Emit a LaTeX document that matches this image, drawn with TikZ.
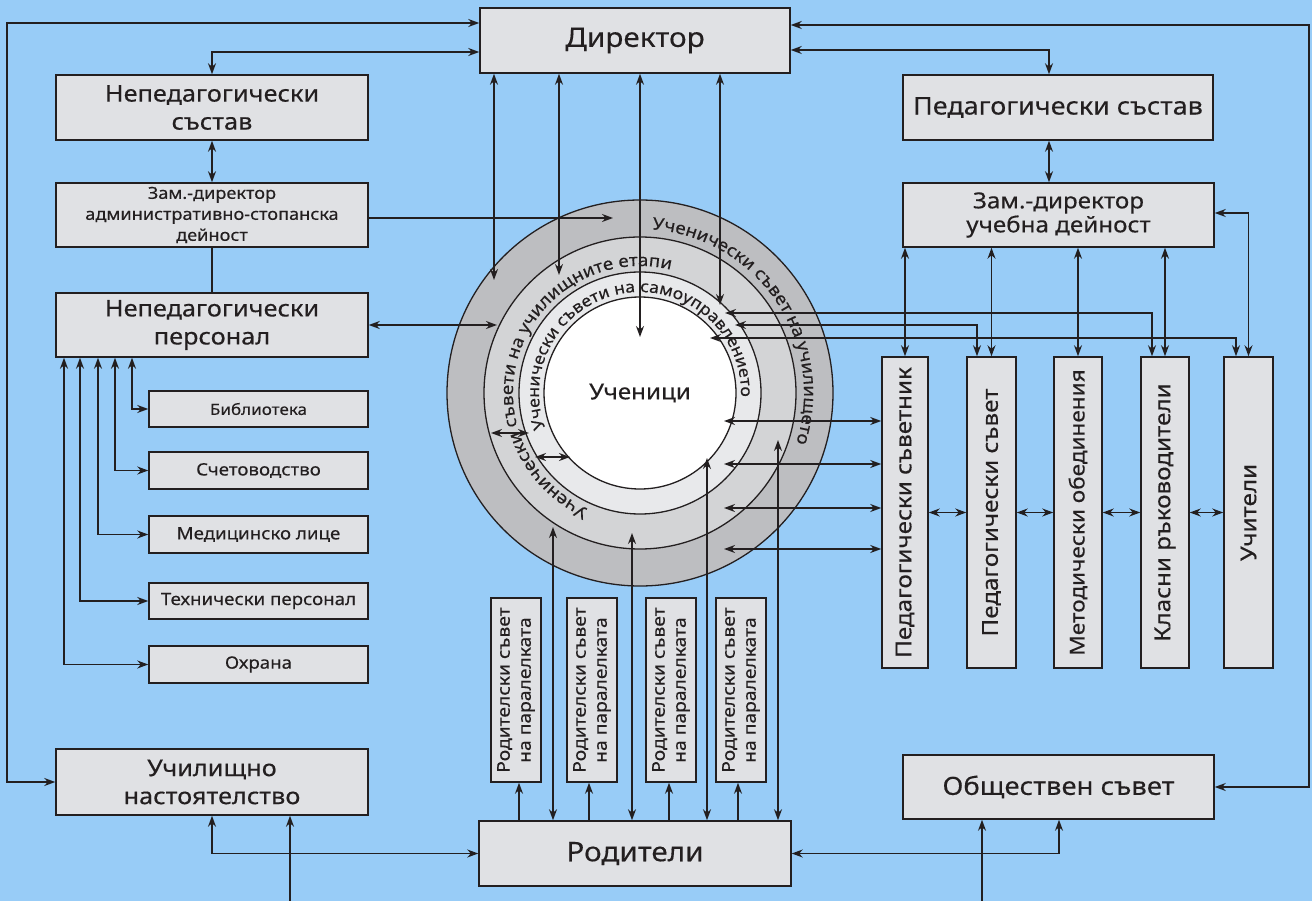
\documentclass[tikz,border=0pt]{standalone}
\usepackage{fontspec}
\setmainfont{Noto Sans}[Script=Cyrillic,Language=Bulgarian,FakeStretch=1.1,FakeBold=0.3]
\usepackage{tikz}
\usetikzlibrary{arrows.meta,decorations.text}

\definecolor{bgblue}{RGB}{152,204,247}
\definecolor{boxgray}{RGB}{224,225,228}
\definecolor{linedark}{RGB}{35,31,32}
\definecolor{ringdark}{RGB}{189,190,193}
\definecolor{ringmid}{RGB}{211,212,214}
\definecolor{ringlight}{RGB}{232,233,235}

\newcommand{\dirfont}{\fontsize{27}{30}\selectfont}
\newcommand{\headfont}{\fontsize{23}{28}\selectfont}
\newcommand{\zamfont}{\fontsize{16.5}{21}\selectfont}
\newcommand{\zudfont}{\fontsize{22}{24}\selectfont}
\newcommand{\psfont}{\fontsize{24.5}{27}\selectfont}
\newcommand{\itemfont}{\fontsize{17}{20}\selectfont}
\newcommand{\libfont}{\fontsize{15.5}{18}\selectfont}
\newcommand{\vertfont}{\fontsize{22}{24}\selectfont}
\newcommand{\mofont}{\fontsize{20.5}{24}\selectfont}
\newcommand{\rsfont}{\fontsize{17.5}{21}\selectfont}
\newcommand{\stufont}{\fontsize{22}{26}\selectfont}
\newcommand{\ringfont}{\fontsize{17}{17}\selectfont}
\newcommand{\innerfont}{\fontsize{16}{16}\selectfont}
\newcommand{\parfont}{\fontsize{27}{30}\selectfont}
\newcommand{\osfont}{\fontsize{25}{28}\selectfont}

\begin{document}
\begin{tikzpicture}[x=1pt, y=-1pt,
			>={Stealth[length=11pt, width=8pt]},
			box/.style={rectangle, draw=linedark, fill=boxgray, line width=1.5pt, inner sep=0pt, align=center, text=linedark},
			link/.style={line width=1.4pt, color=linedark},
			ring/.style={line width=1.3pt, draw=linedark},
			]
			\fill[bgblue] (0,0) rectangle (1312,901);
			\useasboundingbox (0,0) rectangle (1312,901);

			%Circle
				\coordinate (ctr) at (640,393);
				\draw[ring, fill=ringdark]	(ctr) circle[radius=193pt];
				\draw[ring, fill=ringmid]	(ctr) circle[radius=156pt];
				\draw[ring, fill=ringlight]	(ctr) circle[radius=121pt];
				\draw[ring, fill=white]		(ctr) circle[radius=96pt];
				% ring texts
				\path[decorate, decoration={text along path, text align=center,
					text={|\ringfont\color{linedark}|Ученически съвет на училището}}]
					([shift={(104:164pt)}]ctr) arc[start angle=104, end angle=-36, radius=164pt];
				\path[decorate, decoration={text along path, text align=center,
					text={|\ringfont\color{linedark}|Ученически съвети на училищните етапи}}]
					([shift={(261:127pt)}]ctr) arc[start angle=261, end angle=61, radius=127pt];
				\path[decorate, decoration={text along path, text align=center,
					text={|\innerfont\color{linedark}|Ученически съвети на самоуправлението}}]
					([shift={(219:101pt)}]ctr) arc[start angle=219, end angle=-21, radius=101pt];
				\node[font=\stufont, text=linedark]	(stu)	at (ctr)	{Ученици};

			%Nodes
				% top
				\node[box, minimum width=310pt, minimum height=65pt, font=\dirfont]	(dir)	at (635,40.5)	{Директор};
				\node[box, minimum width=310pt, minimum height=65pt, font=\psfont]	(ps)	at (1058,107.5)	{Педагогически състав};
				\node[box, minimum width=311pt, minimum height=64pt, font=\zudfont]	(zud)	at (1058.5,215)	{Зам.-директор\\учебна дейност};
				% left
				\node[box, minimum width=312pt, minimum height=65pt, font=\headfont]	(nps)	at (212,107.5)	{Непедагогически\\състав};
				\node[box, minimum width=312pt, minimum height=64pt, font=\zamfont]	(zasd)	at (212,215)	{Зам.-директор\\административно-стопанска\\дейност};
				\node[box, minimum width=312pt, minimum height=64pt, font=\headfont]	(npp)	at (212,325)	{Непедагогически\\персонал};
				\node[box, minimum width=219pt, minimum height=36pt, font=\libfont]	(lib)	at (258.5,409)	{Библиотека};
				\node[box, minimum width=219pt, minimum height=37pt, font=\itemfont]	(acc)	at (258.5,470.5)	{Счетоводство};
				\node[box, minimum width=219pt, minimum height=37pt, font=\itemfont]	(med)	at (258.5,534.5)	{Медицинско лице};
				\node[box, minimum width=219pt, minimum height=36pt, font=\itemfont]	(tech)	at (258.5,601)	{Технически персонал};
				\node[box, minimum width=219pt, minimum height=37pt, font=\itemfont]	(guard)	at (258.5,664.5)	{Охрана};
				% right
				\node[box, minimum width=46pt, minimum height=311pt, font=\vertfont]	(pss)	at (905,512.5)	{\rotatebox{90}{Педагогически съветник}};
				\node[box, minimum width=49pt, minimum height=311pt, font=\vertfont]	(pcs)	at (991.5,512.5)	{\rotatebox{90}{Педагогически съвет}};
				\node[box, minimum width=48pt, minimum height=311pt, font=\mofont]	(mo)	at (1078,512.5)	{\rotatebox{90}{Методически обединения}};
				\node[box, minimum width=48pt, minimum height=311pt, font=\vertfont]	(kr)	at (1165,512.5)	{\rotatebox{90}{Класни ръководители}};
				\node[box, minimum width=49pt, minimum height=311pt, font=\vertfont]	(uch)	at (1248.5,512.5)	{\rotatebox{90}{Учители}};
				% bottom
				\node[box, minimum width=50pt, minimum height=184pt, font=\rsfont]	(rs1)	at (516,690)	{\rotatebox{90}{\begin{tabular}{@{}c@{}}Родителски съвет\\на паралелката\end{tabular}}};
				\node[box, minimum width=50pt, minimum height=184pt, font=\rsfont]	(rs2)	at (592,690)	{\rotatebox{90}{\begin{tabular}{@{}c@{}}Родителски съвет\\на паралелката\end{tabular}}};
				\node[box, minimum width=50pt, minimum height=184pt, font=\rsfont]	(rs3)	at (671,690)	{\rotatebox{90}{\begin{tabular}{@{}c@{}}Родителски съвет\\на паралелката\end{tabular}}};
				\node[box, minimum width=50pt, minimum height=184pt, font=\rsfont]	(rs4)	at (741,690)	{\rotatebox{90}{\begin{tabular}{@{}c@{}}Родителски съвет\\на паралелката\end{tabular}}};
				\node[box, minimum width=312pt, minimum height=66pt, font=\headfont]	(un)	at (212,782)	{Училищно\\настоятелство};
				\node[box, minimum width=312pt, minimum height=65pt, font=\parfont]	(par)	at (635,853.5)	{Родители};
				\node[box, minimum width=311pt, minimum height=64pt, font=\osfont]	(os)	at (1058.5,787)	{Обществен съвет};

				%ghost points on the rings
				\coordinate	(usu-dir)	at (494,280);
				\coordinate	(use-dir)	at (559,275);
				\coordinate	(stu-dir)	at (640,337);
				\coordinate	(uss-dir)	at (720,305);
				\coordinate	(usu-zasd)	at (613,218);
				\coordinate	(usu-npp)	at (497,325);
				\coordinate	(c-kr)		at (725,313);
				\coordinate	(c-pcs)		at (735,325);
				\coordinate	(c-uch)		at (710,338);
				\coordinate	(c-s1)		at (724,421);
				\coordinate	(c-s2)		at (724,464);
				\coordinate	(c-s3)		at (724,508);
				\coordinate	(c-s4)		at (724,549);
				\coordinate	(c-p1)		at (553,527);
				\coordinate	(c-p2)		at (632,533);
				\coordinate	(c-p3)		at (707,458);
				\coordinate	(c-p4)		at (778,440);
				\coordinate	(c-a1)		at (491,433);
				\coordinate	(c-a2)		at (529,433);
				\coordinate	(c-b1)		at (535,457);
				\coordinate	(c-b2)		at (570,457);
				\coordinate	(un-in)		at (290,901);
				\coordinate	(os-in)		at (982,901);

			%Lines
				% director
				\draw[link, <->] (dir.west |- 0,23) -- (7,23) |- (un.west);
				\draw[link, <->] (dir.west |- 0,52) -| (nps.north);
				\draw[link, <->] (nps.south) -- (zasd.north);
				\draw[link] (zasd.south) -- (npp.north);
				\draw[link, ->] (zasd.east |- 0,218) -- (usu-zasd);
				\draw[link, <->] (npp.east) -- (usu-npp);
				\draw[link, <->] (dir.south -| usu-dir) -- (usu-dir);
				\draw[link, <->] (dir.south -| use-dir) -- (use-dir);
				\draw[link, <->] (dir.south -| stu-dir) -- (stu-dir);
				\draw[link, <->] (dir.south -| uss-dir) -- (uss-dir);
				\draw[link, <->] (dir.east |- 0,25) -- (1309,25) |- (os.east);
				\draw[link, <->] (dir.east |- 0,50) -| (ps.north -| 1049,0);
				\draw[link, <->] (ps.south -| 1049,0) -- (zud.north -| 1049,0);
				% staff
				\draw[link, <->] (npp.south -| 132,0) |- (lib.west);
				\draw[link, <->] (npp.south -| 115,0) |- (acc.west);
				\draw[link, <->] (npp.south -| 98,0) |- (med.west);
				\draw[link, <->] (npp.south -| 80,0) |- (tech.west);
				\draw[link, <->] (npp.south -| 64,0) |- (guard.west);
				% teachers
				\draw[link, <->] (zud.south -| pss.north) -- (pss.north);
				\draw[link, <->] (zud.south -| pcs.north) -- (pcs.north);
				\draw[link, <->] (zud.south -| mo.north) -- (mo.north);
				\draw[link, <->] (zud.south -| kr.north) -- (kr.north);
				\draw[link, <->] (zud.east |- 0,213) -| (uch.north);
				\draw[link, <->] (c-kr) -| (kr.north -| 1152,0);
				\draw[link, <->] (c-pcs) -| (pcs.north -| 977,0);
				\draw[link, <->] (c-uch) -| (uch.north -| 1236,0);
				\draw[link, <->] (c-s1) -- (pss.west |- c-s1);
				\draw[link, <->] (c-s2) -- (pss.west |- c-s2);
				\draw[link, <->] (c-s3) -- (pss.west |- c-s3);
				\draw[link, <->] (c-s4) -- (pss.west |- c-s4);
				\draw[link, <->] (pss.east) -- (pcs.west);
				\draw[link, <->] (pcs.east) -- (mo.west);
				\draw[link, <->] (mo.east) -- (kr.west);
				\draw[link, <->] (kr.east) -- (uch.west);
				% parents
				\draw[link, ->] (par.north -| 519,0) -- (rs1.south -| 519,0);
				\draw[link, ->] (par.north -| 589,0) -- (rs2.south -| 589,0);
				\draw[link, ->] (par.north -| 669,0) -- (rs3.south -| 669,0);
				\draw[link, ->] (par.north -| 738,0) -- (rs4.south -| 738,0);
				\draw[link, <->] (c-p1) -- (par.north -| c-p1);
				\draw[link, <->] (c-p2) -- (par.north -| c-p2);
				\draw[link, <->] (c-p3) -- (par.north -| c-p3);
				\draw[link, <->] (c-p4) -- (par.north -| c-p4);
				\draw[link, <->] (un.south) |- (par.west);
				\draw[link, ->] (un-in) -- (un.south -| un-in);
				\draw[link, <->] (par.east) -| (os.south -| 1059,0);
				\draw[link, ->] (os-in) -- (os.south -| os-in);
				% inside the circle
				\draw[link, <->] (c-a1) -- (c-a2);
				\draw[link, <->] (c-b1) -- (c-b2);
\end{tikzpicture}
\end{document}
